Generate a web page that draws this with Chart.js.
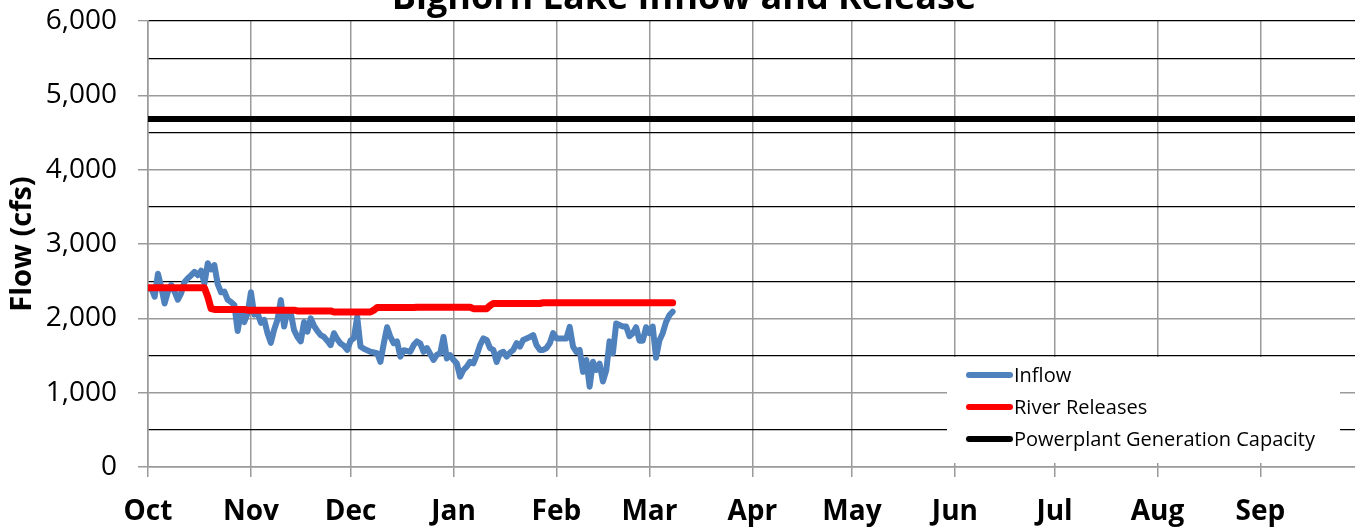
<!DOCTYPE html>
<html>
<head>
<meta charset="utf-8">
<title>Bighorn Lake Inflow and Release</title>
<script src="https://cdn.jsdelivr.net/npm/chart.js@4.4.1/dist/chart.umd.min.js"></script>
<style>
  html, body { margin: 0; padding: 0; overflow: hidden; background: #fff; }
  #wrap { width: 1362px; height: 527px; }
</style>
</head>
<body>
<div id="wrap"><canvas id="flowChart" width="1362" height="527"></canvas></div>
<script>
// water year, day 0 = Oct 1
const monthLabels = ['Oct', 'Nov', 'Dec', 'Jan', 'Feb', 'Mar', 'Apr', 'May', 'Jun', 'Jul', 'Aug', 'Sep'];
const monthStartDays = [0, 31, 61, 92, 123, 151, 182, 212, 243, 273, 304, 335];
const yearEndDay = 365;

// daily inflow (cfs), Oct 1 - Mar 8
const inflow = [
  2400, 2410, 2290, 2600, 2420, 2200, 2360, 2450, 2360, 2250,
  2340, 2490, 2540, 2580, 2625, 2580, 2640, 2470, 2740, 2660,
  2715, 2460, 2350, 2360, 2250, 2220, 2180, 1830, 2090, 1950,
  2070, 2350, 2050, 2070, 1940, 1980, 1800, 1670, 1850, 1980,
  2245, 1890, 2110, 2070, 1840, 1750, 1690, 1950, 1820, 2000,
  1900, 1830, 1775, 1750, 1700, 1640, 1800, 1720, 1660, 1630,
  1575, 1700, 1735, 2020, 1620, 1590, 1570, 1550, 1540, 1530,
  1415, 1660, 1880, 1750, 1665, 1690, 1485, 1570, 1560, 1550,
  1640, 1690, 1660, 1550, 1600, 1520, 1440, 1510, 1530, 1750,
  1460, 1505, 1440, 1395, 1215, 1305, 1350, 1415, 1395, 1505,
  1640, 1730, 1710, 1600, 1575, 1415, 1530, 1550, 1485, 1540,
  1575, 1665, 1620, 1710, 1730, 1750, 1775, 1640, 1575, 1575,
  1600, 1665, 1800, 1730, 1730, 1730, 1730, 1885, 1620, 1550,
  1575, 1280, 1440, 1080, 1415, 1305, 1390, 1150, 1300, 1690,
  1530, 1930, 1910, 1890, 1890, 1760, 1800, 1880, 1700, 1700,
  1880, 1800, 1890, 1470, 1700, 1800, 1950, 2040, 2090
];

// daily river releases (cfs)
const riverReleases = [
  2410, 2410, 2410, 2410, 2410, 2410, 2410, 2410, 2410, 2410,
  2410, 2410, 2410, 2410, 2410, 2410, 2410, 2410, 2290, 2130,
  2120, 2120, 2120, 2120, 2120, 2120, 2120, 2120, 2120, 2120,
  2110, 2110, 2110, 2110, 2110, 2110, 2110, 2110, 2110, 2110,
  2110, 2110, 2110, 2110, 2110, 2100, 2100, 2100, 2100, 2100,
  2100, 2100, 2100, 2100, 2100, 2100, 2085, 2085, 2085, 2085,
  2085, 2085, 2085, 2085, 2085, 2085, 2085, 2085, 2110, 2145,
  2145, 2145, 2145, 2145, 2145, 2145, 2145, 2145, 2145, 2145,
  2145, 2150, 2150, 2150, 2150, 2150, 2150, 2150, 2150, 2150,
  2150, 2150, 2150, 2150, 2150, 2150, 2150, 2150, 2130, 2130,
  2130, 2130, 2130, 2170, 2200, 2200, 2200, 2200, 2200, 2200,
  2200, 2200, 2200, 2200, 2200, 2200, 2200, 2200, 2200, 2210,
  2210, 2210, 2210, 2210, 2210, 2210, 2210, 2210, 2210, 2210,
  2210, 2210, 2210, 2210, 2210, 2210, 2210, 2210, 2210, 2210,
  2210, 2210, 2210, 2210, 2210, 2210, 2210, 2210, 2210, 2210,
  2210, 2210, 2210, 2210, 2210, 2210, 2210, 2210, 2210
];

const capacityDays = [0, yearEndDay];
const capacityFlow = [4680, 4680];

const yTicks = [0, 500, 1000, 1500, 2000, 2500, 3000, 3500, 4000, 4500, 5000, 5500, 6000];

const FONT = '"Open Sans", "Noto Sans", sans-serif';
const GRAY = '#9a9a9a';

Chart.defaults.color = '#000';
Chart.defaults.font.family = FONT;

// title sits half off the top of the picture
const titlePlugin = {
  id: 'topTitle',
  afterDraw(chart) {
    const ctx = chart.ctx;
    ctx.save();
    ctx.font = 'bold 36px ' + FONT;
    ctx.fillStyle = '#000';
    ctx.textAlign = 'center';
    ctx.textBaseline = 'alphabetic';
    ctx.fillText('Bighorn Lake Inflow and Release', 684, 9);
    ctx.restore();
  }
};

// legend box inside the plot, bottom right
const boxLegend = {
  id: 'boxLegend',
  afterDatasetsDraw(chart) {
    const ctx = chart.ctx;
    ctx.save();
    ctx.fillStyle = '#fff';
    ctx.fillRect(947, 357, 393, 106);
    chart.data.datasets.forEach((ds, i) => {
      const y = 375 + i * 32;
      ctx.strokeStyle = ds.borderColor;
      ctx.lineWidth = 6;
      ctx.lineCap = 'round';
      ctx.beginPath();
      ctx.moveTo(969, y);
      ctx.lineTo(1010, y);
      ctx.stroke();
      ctx.fillStyle = '#000';
      ctx.font = '20px ' + FONT;
      ctx.textBaseline = 'middle';
      ctx.fillText(ds.label, 1014, y + 1);
    });
    ctx.restore();
  }
};

const flowChart = document.getElementById('flowChart');
new Chart(flowChart, {
  type: 'line',
  data: {
    datasets: [
      {
        label: 'Inflow',
        data: inflow.map((v, i) => ({ x: i, y: v })),
        borderColor: '#4f81bd',
        borderWidth: 6,
        order: 3
      },
      {
        label: 'River Releases',
        data: riverReleases.map((v, i) => ({ x: i, y: v })),
        borderColor: '#ff0000',
        borderWidth: 7,
        order: 2
      },
      {
        label: 'Powerplant Generation Capacity',
        data: capacityDays.map((d, i) => ({ x: d, y: capacityFlow[i] })),
        borderColor: '#000000',
        borderWidth: 6,
        order: 1
      }
    ]
  },
  options: {
    responsive: false,
    animation: false,
    layout: { padding: { top: 21, right: 2, left: 0, bottom: 0 } },
    elements: {
      point: { radius: 0 },
      line: { tension: 0, borderJoinStyle: 'round', borderCapStyle: 'round' }
    },
    plugins: {
      legend: { display: false },
      tooltip: { enabled: false }
    },
    scales: {
      x: {
        type: 'linear',
        min: 0,
        max: yearEndDay,
        afterBuildTicks(scale) {
          scale.ticks = monthStartDays.map(v => ({ value: v }));
        },
        afterFit(scale) {
          scale.height = 60;
          scale.paddingLeft = 0;
          scale.paddingRight = 0;
        },
        ticks: {
          autoSkip: false,
          maxRotation: 0,
          padding: 18,
          font: { size: 28, weight: 'bold' },
          callback: (value) => monthLabels[monthStartDays.indexOf(value)]
        },
        grid: { color: GRAY, lineWidth: 1.5, tickLength: 10 },
        border: { color: GRAY, width: 1.5 }
      },
      y: {
        min: 0,
        max: 6000,
        afterBuildTicks(scale) {
          scale.ticks = yTicks.map(v => ({ value: v }));
        },
        afterFit(scale) {
          scale.width = 148;
          scale.paddingTop = 0;
          scale.paddingBottom = 0;
        },
        ticks: {
          autoSkip: false,
          padding: 21,
          font: { size: 28 },
          callback: (value) => value % 1000 === 0 ? value.toLocaleString('en-US') : ''
        },
        grid: {
          tickLength: 10,
          lineWidth: (c) => c.tick && c.tick.value % 1000 === 0 && c.tick.value !== 6000 ? 1.5 : 1.3,
          color: (c) => c.tick && c.tick.value % 1000 === 0 && c.tick.value !== 6000 ? GRAY : '#000',
          tickColor: (c) => c.tick && c.tick.value % 1000 === 0 ? GRAY : 'rgba(0,0,0,0)'
        },
        border: { color: GRAY, width: 1.5 },
        title: {
          display: true,
          text: 'Flow (cfs)',
          font: { size: 29, weight: 'bold' },
          padding: { top: 5, bottom: 0 }
        }
      }
    }
  },
  plugins: [titlePlugin, boxLegend]
});
</script>
</body>
</html>
